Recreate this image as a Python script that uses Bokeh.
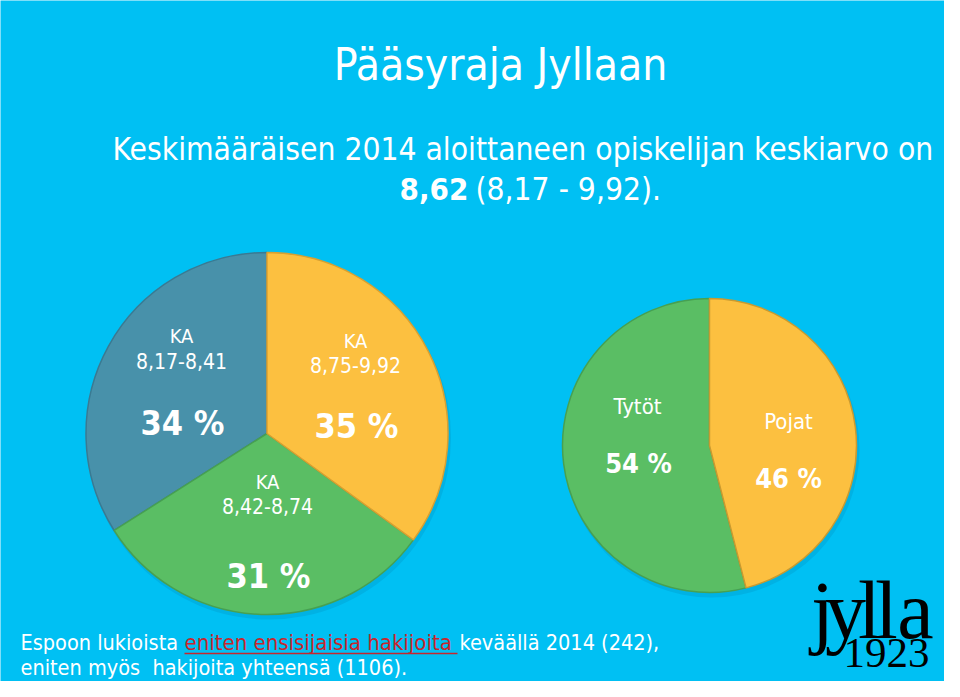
import numpy as np
from bokeh.plotting import figure
from bokeh.models import Range1d
from bokeh.core.properties import value
from bokeh.embed import file_html
from bokeh.resources import INLINE

# ---- data ----
title_text = "Pääsyraja Jyllaan"
subtitle_line1 = "Keskimääräisen 2014 aloittaneen opiskelijan keskiarvo on"
subtitle_mean = "8,62"
subtitle_range = "(8,17 - 9,92)."
grade_prefix = "KA"
grade_ranges = ["8,17-8,41", "8,42-8,74", "8,75-9,92"]
grade_shares = [34, 31, 35]
gender_labels = ["Tytöt", "Pojat"]
gender_shares = [54, 46]
footer_a = "Espoon lukioista "
footer_red = "eniten ensisijaisia hakijoita "
footer_b = "keväällä 2014 (242),"
footer_line2 = "eniten myös\u00a0 hakijoita yhteensä (1106)."
logo_word = "jylla"
logo_year = "1923"

# ---- style ----
BG = "#00C0F3"
FONT = "DejaVu Sans Condensed"
SERIF = "Liberation Serif"
RED = "#C8262C"
grade_colors = ["#4891AA", "#5ABE64", "#FCC040"]
grade_lines = ["#3A7A92", "#47A051", "#D9A030"]
gender_colors = ["#5ABE64", "#FCC040"]
gender_lines = ["#47A051", "#C99A30"]


def wedge_angles(shares):
    fr = np.array(shares, dtype=float) / float(sum(shares))
    ends = np.pi / 2 + 2 * np.pi * np.cumsum(fr)
    starts = ends - 2 * np.pi * fr
    return starts, ends


def label(x, y, text, size, color="white", bold=False, align="center", font=FONT):
    p.text(x=x, y=[-v for v in y], text=text, text_font=value(font), text_font_size=size,
           text_font_style="bold" if bold else "normal", text_color=color,
           text_align=align, text_baseline="middle")


p = figure(width=944, height=681, x_range=Range1d(0, 944), y_range=Range1d(-681, 0),
           output_backend="svg", toolbar_location=None, min_border=0,
           x_axis_type=None, y_axis_type=None,
           background_fill_color=BG, border_fill_color=BG, outline_line_color=None)
p.grid.visible = False

# ---- titles ----
label([500], [64], [title_text], "44px")
label([112], [148], [subtitle_line1], "31.5px", align="left")
label([399], [188], [subtitle_mean], "31px", bold=True, align="left")
label([475], [188], [subtitle_range], "31.5px", align="left")

# ---- pie 1: grade ranges ----
c1x, c1y, r1 = 266.5, -433, 181
s1, e1 = wedge_angles(grade_shares)
p.circle(x=[c1x + 2], y=[c1y - 4], radius=r1 + 1, fill_color="#0088B8", fill_alpha=0.25, line_color=None)
p.wedge(x=[c1x] * 3, y=[c1y] * 3, radius=r1, start_angle=list(s1), end_angle=list(e1),
        direction="anticlock", fill_color=grade_colors, line_color=grade_lines, line_width=1.5)

# label layout for grade slices (order: blue, green, yellow)
ka_pos = [(181, 335), (267, 481), (355, 340)]
rng_pos = [(181, 360), (267, 505), (355, 364)]
pct_pos = [(182, 422), (268, 575), (356, 425)]
label([q[0] for q in ka_pos], [q[1] for q in ka_pos], [grade_prefix] * 3, "20px")
label([q[0] for q in rng_pos], [q[1] for q in rng_pos], grade_ranges, "21px")
label([q[0] for q in pct_pos], [q[1] for q in pct_pos], [f"{v} %" for v in grade_shares], "34px", bold=True)

# ---- pie 2: gender ----
c2x, c2y, r2 = 709, -445, 147
s2, e2 = wedge_angles(gender_shares)
p.circle(x=[c2x + 2], y=[c2y - 4], radius=r2 + 1, fill_color="#0088B8", fill_alpha=0.25, line_color=None)
p.wedge(x=[c2x] * 2, y=[c2y] * 2, radius=r2, start_angle=list(s2), end_angle=list(e2),
        direction="anticlock", fill_color=gender_colors, line_color=gender_lines, line_width=1.5)
g_lab_pos = [(637, 406), (788, 421)]
g_pct_pos = [(638, 463), (788, 478)]
label([q[0] for q in g_lab_pos], [q[1] for q in g_lab_pos], gender_labels, "22px")
label([q[0] for q in g_pct_pos], [q[1] for q in g_pct_pos], [f"{v} %" for v in gender_shares], "27px", bold=True)

# ---- footer ----
label([20], [642], [footer_a], "21.5px", align="left")
label([184], [642], [footer_red], "22px", color=RED, align="left")
p.segment(x0=[184], y0=[-653], x1=[457], y1=[-653], line_color=RED, line_width=1.5)
label([459], [642], [footer_b], "21.5px", align="left")
label([20], [667], [footer_line2], "21.5px", align="left")

# ---- logo ----
logo_x = [822, 845, 869, 886, 915]
label(logo_x, [610] * 5, list(logo_word), "82px", color="black", font=SERIF)
label([843], [652], [logo_year], "43px", color="black", align="left", font=SERIF)

open("out.html", "w").write(file_html(p, INLINE))
